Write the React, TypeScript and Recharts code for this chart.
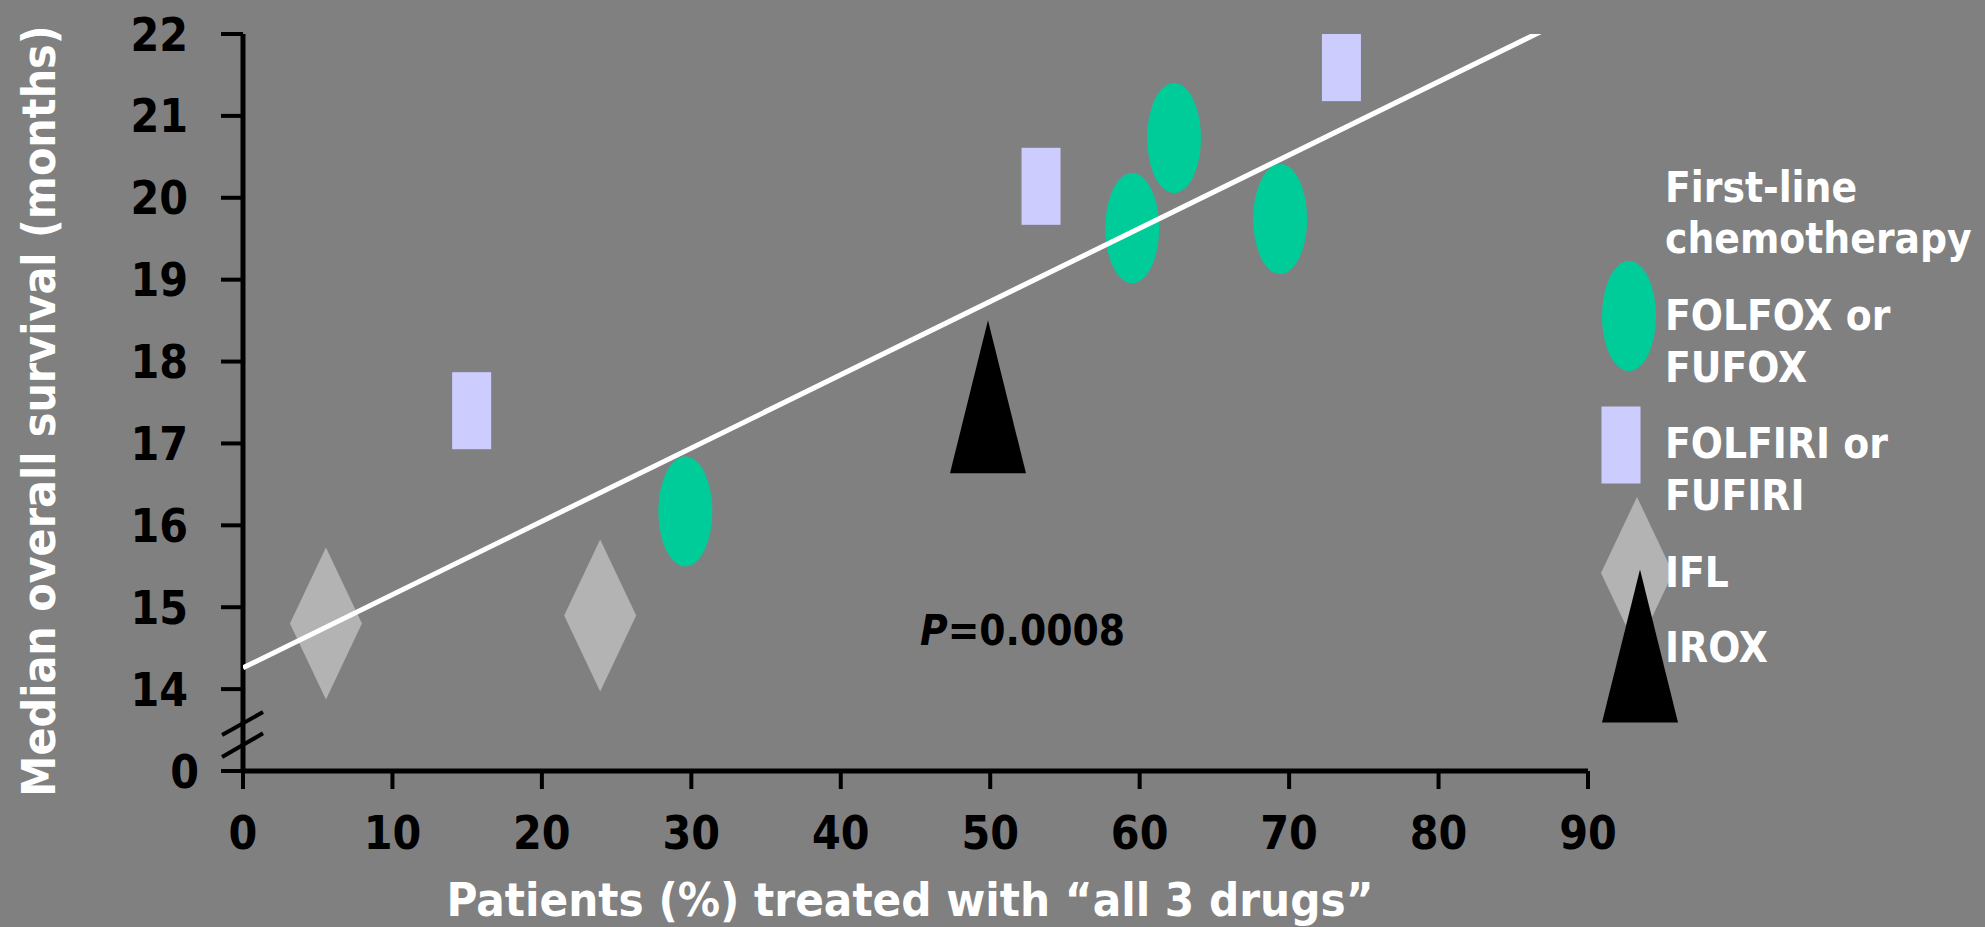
import React from "react";
import {
  ScatterChart,
  Scatter,
  XAxis,
  YAxis,
  Label,
  ReferenceLine,
  ReferenceDot,
} from "recharts";

// 各レジメンの試験結果（x: 3剤すべて投与された患者 %, y: 生存期間中央値 月）
const folfox = [
  { x: 29.6, y: 16.17 },
  { x: 59.5, y: 19.63 },
  { x: 62.3, y: 20.73 },
  { x: 69.4, y: 19.74 },
];
const folfiri = [
  { x: 15.3, y: 17.4 },
  { x: 53.4, y: 20.14 },
  { x: 73.5, y: 21.65 },
];
const ifl = [
  { x: 5.55, y: 14.8 },
  { x: 23.9, y: 14.9 },
];
const irox = [{ x: 49.85, y: 17.57 }];

// 回帰直線の両端
const trend = [
  { x: 0, y: 14.26 },
  { x: 87.3, y: 22.07 },
];

const xTicks = [0, 10, 20, 30, 40, 50, 60, 70, 80, 90];
// 13 は軸の切れ目の下にある「0」
const yTicks = [13, 14, 15, 16, 17, 18, 19, 20, 21, 22];

// 軸の切れ目（二重スラッシュ）
const breakSlashes = [
  [{ x: -1.4, y: 13.44 }, { x: 1.34, y: 13.72 }],
  [{ x: -1.4, y: 13.17 }, { x: 1.34, y: 13.46 }],
];
const breakGap = [{ x: 0, y: 13.33 }, { x: 0, y: 13.59 }];

const pValuePos = { x: 45.3, y: 14.54 };

const FONT = "'DejaVu Sans Condensed', 'DejaVu Sans', Verdana, sans-serif";
const BG = "#808080";
const GREEN = "#00CC99";
const LAVENDER = "#CCCCFF";
const GREY = "#B3B3B3";

const ellipse = (cx: number, cy: number) => (
  <ellipse cx={cx} cy={cy} rx={27} ry={55} fill={GREEN} />
);
const rect = (cx: number, cy: number) => (
  <rect x={cx - 19.5} y={cy - 38.5} width={39} height={77} fill={LAVENDER} />
);
const diamond = (cx: number, cy: number) => (
  <path
    d={`M${cx},${cy - 76} L${cx + 36},${cy} L${cx},${cy + 76} L${cx - 36},${cy} Z`}
    fill={GREY}
  />
);
const triangle = (cx: number, cy: number) => (
  <path
    d={`M${cx},${cy - 76.5} L${cx + 38},${cy + 76.5} L${cx - 38},${cy + 76.5} Z`}
    fill="#000"
  />
);

const legendItems = [
  { lines: ["FOLFOX or", "FUFOX"], draw: ellipse, cx: 1629, cy: 316, y: 330 },
  { lines: ["FOLFIRI or", "FUFIRI"], draw: rect, cx: 1621, cy: 445, y: 458 },
  { lines: ["IFL"], draw: diamond, cx: 1637, cy: 573, y: 587 },
  { lines: ["IROX"], draw: triangle, cx: 1640, cy: 646, y: 662 },
];

// 凡例はチャートの描画領域を削らないよう、外側に重ねて置く
function LegendBox() {
  const txt = {
    fill: "#fff",
    fontFamily: FONT,
    fontWeight: 700,
    fontSize: 42,
  } as const;
  return (
    <svg
      width={1985}
      height={927}
      style={{ position: "absolute", left: 0, top: 0, pointerEvents: "none" }}
    >
      <text x={1665} y={202} {...txt}>First-line</text>
      <text x={1665} y={253} {...txt}>chemotherapy</text>
      {legendItems.map((it) => (
        <g key={it.lines[0]}>
          {it.draw(it.cx, it.cy)}
          {it.lines.map((l, i) => (
            <text key={l} x={1665} y={it.y + i * 52} {...txt}>
              {l}
            </text>
          ))}
        </g>
      ))}
    </svg>
  );
}

const XTick = (props: any) => {
  const { x, y, payload } = props;
  return (
    <text
      x={x}
      y={y}
      dy="0.36em"
      textAnchor="middle"
      fill="#000"
      fontFamily={FONT}
      fontWeight={700}
      fontSize={46}
    >
      {payload.value}
    </text>
  );
};

const YTick = (props: any) => {
  const { x, y, payload } = props;
  const isZero = payload.value === 13;
  return (
    <text
      x={isZero ? x + 11 : x}
      y={y}
      dy="0.36em"
      textAnchor="end"
      fill="#000"
      fontFamily={FONT}
      fontWeight={700}
      fontSize={46}
    >
      {isZero ? "0" : payload.value}
    </text>
  );
};

export default function App() {
  return (
    <div
      style={{
        position: "absolute",
        left: 0,
        top: 0,
        width: 1985,
        height: 927,
        background: BG,
        overflow: "hidden",
      }}
    >
      <ScatterChart
        width={1985}
        height={927}
        margin={{ top: 34, right: 397, bottom: 0, left: 0 }}
      >
        <XAxis
          type="number"
          dataKey="x"
          domain={[0, 90]}
          ticks={xTicks}
          interval={0}
          allowDataOverflow
          height={156}
          tickSize={18}
          tickMargin={43}
          axisLine={{ stroke: "#000", strokeWidth: 5 }}
          tickLine={{ stroke: "#000", strokeWidth: 4 }}
          tick={<XTick />}
        >
          <Label
            content={() => (
              <text
                x={910}
                y={916}
                textAnchor="middle"
                fill="#fff"
                fontFamily={FONT}
                fontWeight={700}
                fontSize={47}
              >
                Patients (%) treated with “all 3 drugs”
              </text>
            )}
          />
        </XAxis>
        <YAxis
          type="number"
          dataKey="y"
          domain={[13, 22]}
          ticks={yTicks}
          interval={0}
          allowDataOverflow
          width={243}
          tickSize={22}
          tickMargin={33}
          axisLine={{ stroke: "#000", strokeWidth: 5 }}
          tickLine={{ stroke: "#000", strokeWidth: 4 }}
          tick={<YTick />}
        >
          <Label
            content={() => (
              <text
                x={55}
                y={411}
                transform="rotate(-90 55 411)"
                textAnchor="middle"
                fill="#fff"
                fontFamily={FONT}
                fontWeight={700}
                fontSize={46}
              >
                Median overall survival (months)
              </text>
            )}
          />
        </YAxis>
        <ReferenceLine
          segment={breakGap}
          stroke={BG}
          strokeWidth={8}
          ifOverflow="visible"
        />
        {breakSlashes.map((s, i) => (
          <ReferenceLine
            key={i}
            segment={s}
            stroke="#000"
            strokeWidth={4}
            ifOverflow="visible"
          />
        ))}
        <Scatter
          name="FOLFOX or FUFOX"
          data={folfox}
          isAnimationActive={false}
          shape={(p: any) => ellipse(p.cx, p.cy)}
        />
        <Scatter
          name="FOLFIRI or FUFIRI"
          data={folfiri}
          isAnimationActive={false}
          shape={(p: any) => rect(p.cx, p.cy)}
        />
        <Scatter
          name="IFL"
          data={ifl}
          isAnimationActive={false}
          shape={(p: any) => diamond(p.cx, p.cy)}
        />
        <Scatter
          name="IROX"
          data={irox}
          isAnimationActive={false}
          shape={(p: any) => triangle(p.cx, p.cy)}
        />
        <Scatter
          name="trend"
          data={trend}
          isAnimationActive={false}
          line={{ stroke: "#fff", strokeWidth: 5 }}
          shape={() => <g />}
          legendType="none"
        />
        <ReferenceDot
          x={pValuePos.x}
          y={pValuePos.y}
          ifOverflow="visible"
          shape={(p: any) => (
            <text
              x={p.cx}
              y={p.cy}
              fill="#000"
              fontFamily={FONT}
              fontWeight={700}
              fontSize={42}
            >
              <tspan fontStyle="italic">P</tspan>=0.0008
            </text>
          )}
        />
      </ScatterChart>
      <LegendBox />
    </div>
  );
}
